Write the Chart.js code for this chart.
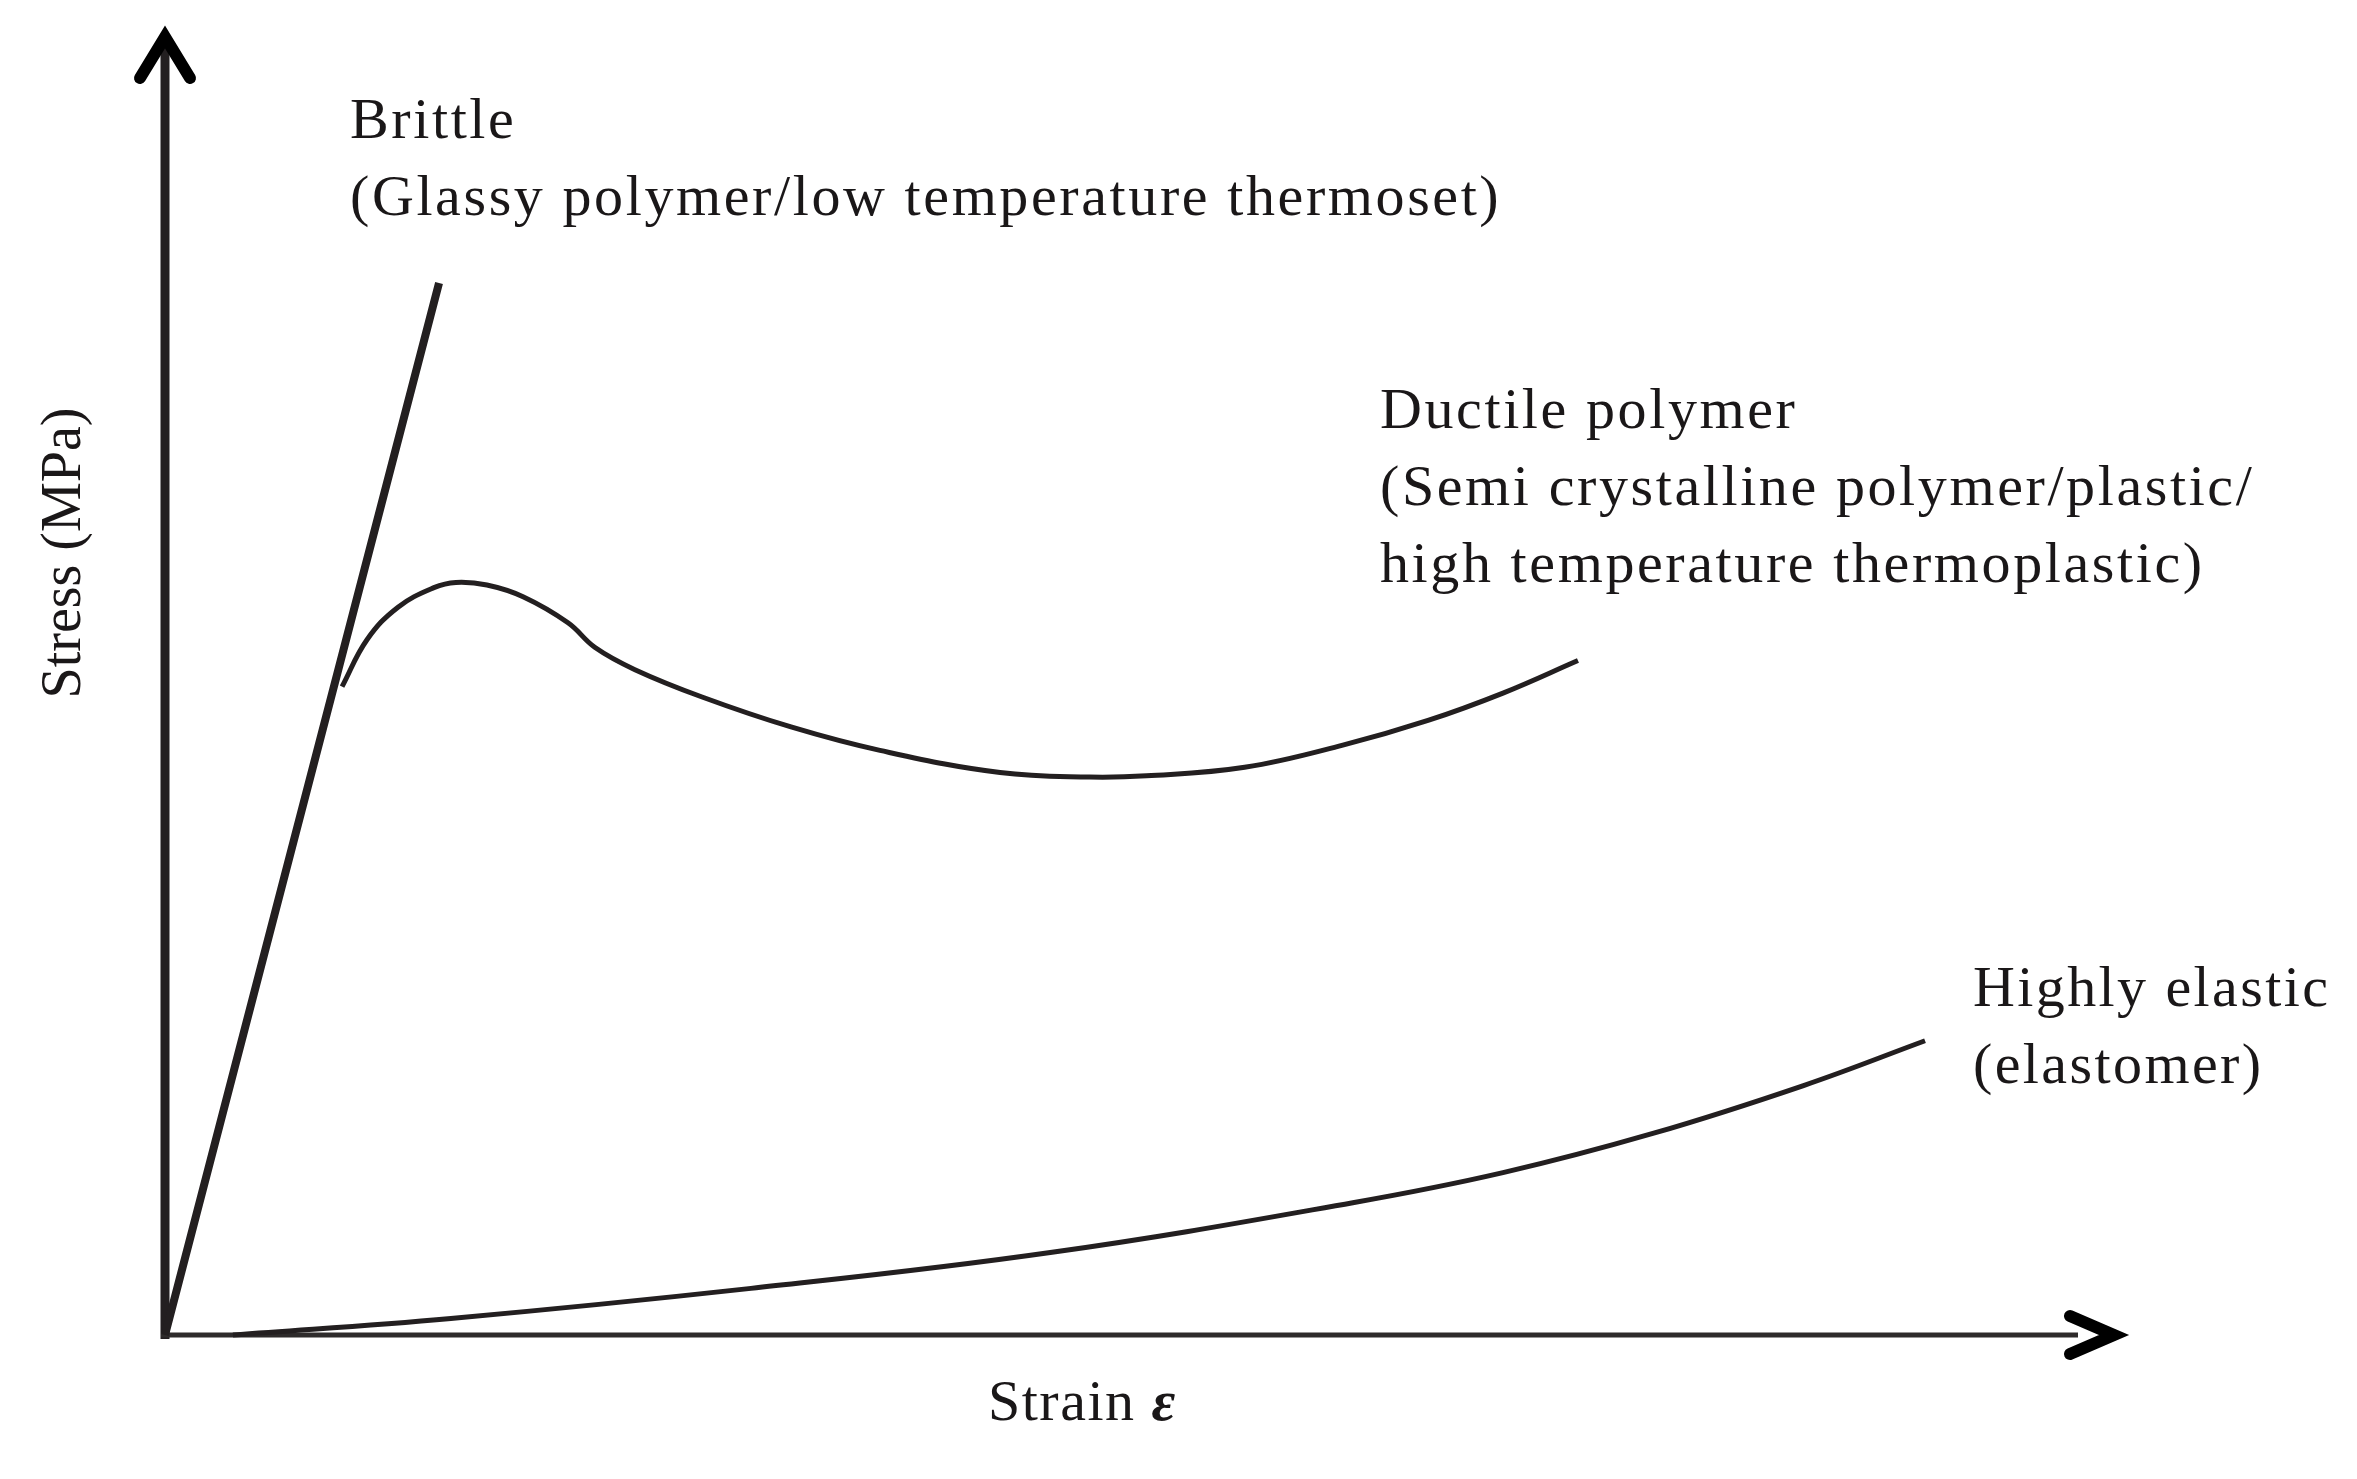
<!DOCTYPE html>
<html>
<head>
<meta charset="utf-8">
<title>Stress-strain curves</title>
<script src="https://cdn.jsdelivr.net/npm/chart.js@4"></script>
<style>
  html, body { margin: 0; padding: 0; background: #fff; }
  #wrap { width: 2357px; height: 1479px; position: relative; }
</style>
</head>
<body>
<div id="wrap"><canvas id="stressChart"></canvas></div>
<script>
// values (strain / stress in arbitrary units, 0-100)
const brittleStrain = [0, 13.96];
const brittleStress = [0, 80.8];

const ductileStrain = [9.02, 10.29, 11.87, 13.70, 14.82, 16.40, 18.24, 20.53, 21.91, 23.94, 27.36, 31.89, 36.42, 42.54, 47.10, 50.0, 55.0, 60.0, 64.34, 68.16, 71.98];
const ductileStress = [49.8, 53.4, 55.9, 57.4, 57.8, 57.6, 56.7, 54.7, 52.8, 51.1, 49.0, 46.7, 44.9, 43.2, 42.85, 42.95, 43.6, 45.3, 47.2, 49.3, 51.8];

const elasticStrain = [3.46, 14.56, 29.85, 45.19, 60.51, 68.16, 75.84, 83.47, 89.66];
const elasticStress = [0, 1.27, 3.58, 6.35, 10.16, 12.47, 15.5, 19.16, 22.6];

const brittleLabel = ["Brittle", "(Glassy polymer/low temperature thermoset)"];
const ductileLabel = ["Ductile polymer", "(Semi crystalline polymer/plastic/", "high temperature thermoplastic)"];
const elasticLabel = ["Highly elastic", "(elastomer)"];
const xTitle = "Strain ";
const xSymbol = "ε";
const yTitle = "Stress (MPa)";

const ink = "#231f20";
const serif = "'Liberation Serif', 'Times New Roman', serif";

function toPoints(xs, ys) {
  return xs.map((x, i) => ({ x: x, y: ys[i] }));
}

// axes with arrow heads + text labels, drawn from the scales
const sketchPlugin = {
  id: "sketch",
  beforeDatasetsDraw(chart) {
    const c = chart.ctx;
    const sx = chart.scales.x, sy = chart.scales.y;
    const x0 = sx.getPixelForValue(0), y0 = sy.getPixelForValue(0);
    const xEnd = sx.getPixelForValue(100), yEnd = sy.getPixelForValue(100);
    c.save();
    c.strokeStyle = ink;
    c.lineCap = "butt";
    // y axis
    c.lineWidth = 9;
    c.beginPath(); c.moveTo(x0, y0 + 4); c.lineTo(x0, yEnd + 6); c.stroke();
    // x axis
    c.strokeStyle = "#2e2b2b";
    c.lineWidth = 5;
    c.beginPath(); c.moveTo(x0 - 4, y0); c.lineTo(xEnd - 50, y0); c.stroke();
    // arrow heads
    c.strokeStyle = "#000";
    c.lineWidth = 12;
    c.lineCap = "round";
    c.lineJoin = "miter";
    c.beginPath();
    c.moveTo(x0 - 25, yEnd + 45); c.lineTo(x0, yEnd + 4); c.lineTo(x0 + 25, yEnd + 45);
    c.stroke();
    c.beginPath();
    c.moveTo(xEnd - 58, y0 - 19); c.lineTo(xEnd - 14, y0); c.lineTo(xEnd - 58, y0 + 19);
    c.stroke();
    c.restore();
  },
  afterDraw(chart) {
    const c = chart.ctx;
    c.save();
    c.fillStyle = "#1a1718";
    c.textBaseline = "alphabetic";
    c.textAlign = "left";
    c.font = "58px " + serif;
    c.letterSpacing = "2.6px";
    const lineGap = 77;
    brittleLabel.forEach((t, i) => c.fillText(t, 350, 138 + i * lineGap));
    ductileLabel.forEach((t, i) => c.fillText(t, 1380, 428 + i * lineGap));
    c.letterSpacing = "2.4px";
    elasticLabel.forEach((t, i) => c.fillText(t, 1973, 1006 + i * lineGap));

    // x axis title
    c.letterSpacing = "1.5px";
    const w = c.measureText(xTitle).width;
    c.fillText(xTitle, 988, 1420);
    c.font = "italic bold 58px " + serif;
    c.fillText(xSymbol, 988 + w, 1420);

    // y axis title
    c.font = "56px " + serif;
    c.letterSpacing = "0px";
    c.translate(80, 553);
    c.rotate(-Math.PI / 2);
    c.textAlign = "center";
    c.fillText(yTitle, 0, 0);
    c.restore();
  }
};

const chart = new Chart(document.getElementById("stressChart"), {
  type: "scatter",
  data: {
    datasets: [
      { label: "Brittle", data: toPoints(brittleStrain, brittleStress), borderWidth: 8 },
      { label: "Ductile", data: toPoints(ductileStrain, ductileStress), borderWidth: 5 },
      { label: "Elastic", data: toPoints(elasticStrain, elasticStress), borderWidth: 5 }
    ].map(d => Object.assign(d, {
      showLine: true,
      borderColor: ink,
      pointRadius: 0,
      tension: 0.4,
      clip: false
    }))
  },
  options: {
    responsive: true,
    maintainAspectRatio: false,
    animation: false,
    layout: { padding: { left: 165, top: 33, right: 229, bottom: 144 } },
    scales: {
      x: { type: "linear", min: 0, max: 100, display: false },
      y: { type: "linear", min: 0, max: 100, display: false }
    },
    plugins: { legend: { display: false }, tooltip: { enabled: false } }
  },
  plugins: [sketchPlugin]
});
</script>
</body>
</html>
